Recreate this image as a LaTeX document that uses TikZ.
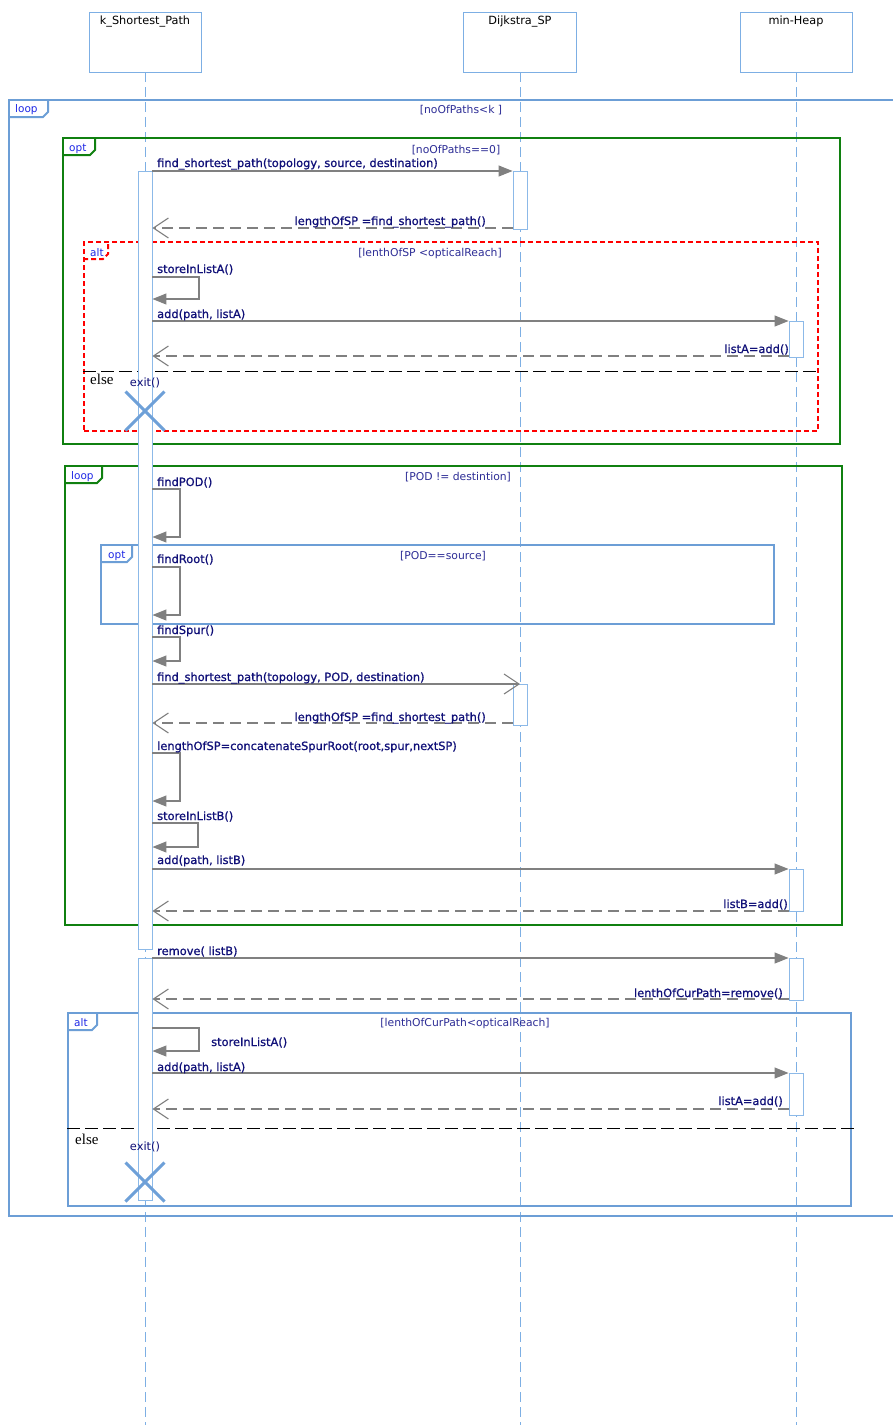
\documentclass[tikz,border=0pt]{standalone}
\usepackage{fontspec}
\setmainfont{DejaVu Sans}
\newfontfamily\elsefont{Liberation Serif}
\newfontfamily\msgfont[FakeBold=0.9]{DejaVu Sans}
\usetikzlibrary{arrows.meta,shapes.misc}
\definecolor{frameblue}{RGB}{108,158,214}
\definecolor{lifeblue}{RGB}{125,175,228}
\definecolor{barblue}{RGB}{140,185,232}
\definecolor{umlgreen}{RGB}{16,128,16}
\definecolor{navytext}{RGB}{16,16,120}
\definecolor{guardtext}{RGB}{45,45,150}
\definecolor{tabtext}{RGB}{30,40,230}
\definecolor{arrowgray}{RGB}{128,128,128}
\definecolor{xblue}{RGB}{110,160,216}
\tikzset{
 headbox/.style={draw=lifeblue, line width=0.9pt, minimum width=112pt, minimum height=60pt, inner sep=0pt},
 headtext/.style={font=\fontsize{11.3}{13}\selectfont, text=black, inner sep=0pt},
 lifeline/.style={draw=lifeblue, line width=0.9pt, dash pattern=on 10pt off 5pt},
 actbar/.style={draw=barblue, fill=white, line width=0.9pt, minimum width=14pt, inner sep=0pt, anchor=north},
 call/.style={draw=arrowgray, line width=1.1pt, -{Triangle[length=14pt,width=11pt]}},
 opencall/.style={draw=arrowgray, line width=1.1pt, -{Straight Barb[length=15pt,width=20pt]}},
 reply/.style={draw=arrowgray, line width=1.1pt, dash pattern=on 11pt off 6pt, -{Straight Barb[length=15pt,width=20pt]}},
 mlabel/.style={font=\msgfont\fontsize{11.4}{13}\selectfont, text=navytext, inner sep=0pt, anchor=base west},
 rlabel/.style={mlabel, anchor=base east},
 exitlabel/.style={font=\fontsize{11.4}{13}\selectfont, text=navytext, inner sep=0pt},
 guard/.style={font=\fontsize{10.8}{13}\selectfont, text=guardtext, inner sep=0pt},
 tablabel/.style={font=\fontsize{10.5}{12}\selectfont, text=tabtext, inner sep=0pt, anchor=base west},
 frm/.style={line width=2pt, inner sep=0pt, anchor=north west},
 blueframe/.style={frm, draw=frameblue},
 greenframe/.style={frm, draw=umlgreen},
 redframe/.style={frm, draw=red, dash pattern=on 5pt off 3pt},
 elseline/.style={draw=black, line width=1pt, dash pattern=on 13pt off 5pt},
 elselabel/.style={font=\elsefont\fontsize{15}{17}\selectfont, text=black, inner sep=0pt, anchor=base west},
 xmark/.style={cross out, draw=xblue, line width=3pt, minimum size=36pt, inner sep=0pt},
}
\begin{document}
\begin{tikzpicture}[x=1pt,y=-1pt]
\useasboundingbox[fill=white] (0,0) rectangle (893,1425);

% lifeline heads
\node[headbox, label={[headtext, anchor=north, yshift=-4pt]north:k\_Shortest\_Path}] (k) at (145,42) {};
\node[headbox, minimum width=113pt, label={[headtext, anchor=north, yshift=-4pt]north:Dijkstra\_SP}] (d) at (520,42) {};
\node[headbox, label={[headtext, anchor=north, yshift=-4pt]north:min-Heap}] (h) at (796,42) {};
\coordinate (kend) at (145,1425);
\coordinate (dend) at (520,1425);
\coordinate (hend) at (796,1425);
\draw[lifeline] (k.south) -- (kend);
\draw[lifeline] (d.south) -- (dend);
\draw[lifeline] (h.south) -- (hend);

% combined fragments
\node[blueframe, minimum width=910pt, minimum height=1116pt] (oloop) at (8,99) {};
\draw[draw=frameblue, line width=2pt] (8,117) -- (43,117) -- (48,112) -- (48,99);
\node[tablabel] (oloopt) at (15,112) {loop};
\node[guard] (oloopg) at (461,110) {[noOfPaths<k ]};

\node[greenframe, minimum width=777pt, minimum height=306pt] (opt1) at (62,137) {};
\draw[draw=umlgreen, line width=2pt] (62,155) -- (90,155) -- (95,150) -- (95,137);
\node[tablabel] (opt1t) at (69,151) {opt};
\node[guard] (opt1g) at (456,150) {[noOfPaths==0]};

\node[redframe, minimum width=734pt, minimum height=189pt] (alt1) at (83,241) {};
\draw[draw=red, line width=2pt, dash pattern=on 5pt off 3pt] (83,259) -- (103,259) -- (108,254) -- (108,241);
\node[tablabel] (alt1t) at (90,256) {alt};
\node[guard] (alt1g) at (430,254) {[lenthOfSP <opticalReach]};
\coordinate (e1a) at (83,371);
\coordinate (e1b) at (820,371);
\draw[elseline] (e1a) -- (e1b);
\node[elselabel] (else1) at (90,384) {else};

\node[greenframe, minimum width=777pt, minimum height=459pt] (loop2) at (64,465) {};
\draw[draw=umlgreen, line width=2pt] (64,483) -- (97,483) -- (102,478) -- (102,465);
\node[tablabel] (loop2t) at (71,479) {loop};
\node[guard] (loop2g) at (458,477) {[POD != destintion]};

\node[blueframe, minimum width=673pt, minimum height=79pt] (opt2) at (100,544) {};
\draw[draw=frameblue, line width=2pt] (100,562) -- (127,562) -- (132,557) -- (132,544);
\node[tablabel] (opt2t) at (108,558) {opt};
\node[guard] (opt2g) at (443,556) {[POD==source]};

\node[blueframe, minimum width=783pt, minimum height=193pt] (alt2) at (67,1012) {};
\draw[draw=frameblue, line width=2pt] (67,1030) -- (92,1030) -- (97,1025) -- (97,1012);
\node[tablabel] (alt2t) at (74,1026) {alt};
\node[guard] (alt2g) at (465,1024) {[lenthOfCurPath<opticalReach]};
\coordinate (e2a) at (67,1128);
\coordinate (e2b) at (855,1128);
\draw[elseline] (e2a) -- (e2b);
\node[elselabel] (else2) at (75,1144) {else};

% activation bars
\node[actbar, minimum height=778pt] (ka1) at (145,171) {};
\node[actbar, minimum height=242pt] (ka2) at (145,958) {};
\node[actbar, minimum height=58pt] (da1) at (520,171) {};
\node[actbar, minimum height=41pt] (da2) at (520,684) {};
\node[actbar, minimum height=36pt] (ha1) at (796,321) {};
\node[actbar, minimum height=42pt] (ha2) at (796,869) {};
\node[actbar, minimum height=42pt] (ha3) at (796,958) {};
\node[actbar, minimum height=42pt] (ha4) at (796,1073) {};

% messages
\draw[call] (ka1.east |- da1.north) -- (da1.north west);
\node[mlabel] (m1) at (157,167) {find\_shortest\_path(topology, source, destination)};
\draw[reply] (da1.west |- 0,228) -- (ka1.east |- 0,228);
\node[rlabel] (r1) at (486,225) {lengthOfSP =find\_shortest\_path()};

\draw[call] (ka1.east |- 0,277) -- (199,277) -- (199,299) -- (ka1.east |- 0,299);
\node[mlabel] (m2) at (157,273) {storeInListA()};
\draw[call] (ka1.east |- ha1.north) -- (ha1.north west);
\node[mlabel] (m3) at (157,318) {add(path, listA)};
\draw[reply] (ha1.west |- 0,356) -- (ka1.east |- 0,356);
\node[rlabel] (r3) at (789,353) {listA=add()};
\node[exitlabel] (exit1) at (145,383) {exit()};

\draw[call] (ka1.east |- 0,489) -- (180,489) -- (180,537) -- (ka1.east |- 0,537);
\node[mlabel] (m4) at (157,486) {findPOD()};
\draw[call] (ka1.east |- 0,567) -- (180,567) -- (180,615) -- (ka1.east |- 0,615);
\node[mlabel] (m5) at (157,563) {findRoot()};
\draw[call] (ka1.east |- 0,637) -- (180,637) -- (180,661) -- (ka1.east |- 0,661);
\node[mlabel] (m6) at (157,634) {findSpur()};
\draw[opencall] (ka1.east |- da2.north) -- (da2.north);
\node[mlabel] (m7) at (157,681) {find\_shortest\_path(topology, POD, destination)};
\draw[reply] (da2.west |- 0,723) -- (ka1.east |- 0,723);
\node[rlabel] (r7) at (486,721) {lengthOfSP =find\_shortest\_path()};
\draw[call] (ka1.east |- 0,753) -- (180,753) -- (180,801) -- (ka1.east |- 0,801);
\node[mlabel] (m8) at (157,750) {lengthOfSP=concatenateSpurRoot(root,spur,nextSP)};
\draw[call] (ka1.east |- 0,823) -- (198,823) -- (198,847) -- (ka1.east |- 0,847);
\node[mlabel] (m9) at (157,820) {storeInListB()};
\draw[call] (ka1.east |- ha2.north) -- (ha2.north west);
\node[mlabel] (m10) at (157,864) {add(path, listB)};
\draw[reply] (ha2.west |- 0,911) -- (ka1.east |- 0,911);
\node[rlabel] (r10) at (788,908) {listB=add()};

\draw[call] (ka2.east |- ha3.north) -- (ha3.north west);
\node[mlabel] (m11) at (157,955) {remove( listB)};
\draw[reply] (ha3.west |- 0,999) -- (ka2.east |- 0,999);
\node[rlabel] (r11) at (783,997) {lenthOfCurPath=remove()};

\draw[call] (ka2.east |- 0,1028) -- (199,1028) -- (199,1051) -- (ka2.east |- 0,1051);
\node[mlabel] (m12) at (211,1046) {storeInListA()};
\draw[call] (ka2.east |- ha4.north) -- (ha4.north west);
\node[mlabel] (m13) at (157,1071) {add(path, listA)};
\draw[reply] (ha4.west |- 0,1109) -- (ka2.east |- 0,1109);
\node[rlabel] (r13) at (783,1105) {listA=add()};
\node[exitlabel] (exit2) at (145,1147) {exit()};

% destruction marks
\node[xmark] (x1) at (145,411) {};
\node[xmark] (x2) at (145,1182) {};
\end{tikzpicture}
\end{document}
